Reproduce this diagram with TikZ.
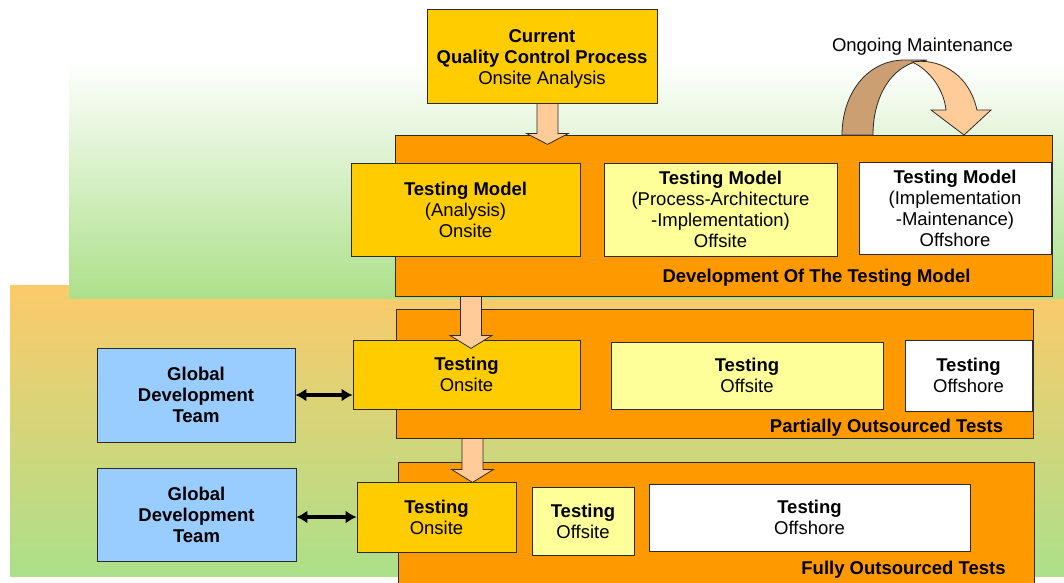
\documentclass[tikz,border=0pt]{standalone}
\usepackage{fontspec}
\setmainfont{Liberation Sans}
\usetikzlibrary{calc,arrows.meta}
\definecolor{bigorange}{HTML}{FF9900}
\definecolor{gold}{HTML}{FFCC00}
\definecolor{paleyellow}{HTML}{FFFF99}
\definecolor{skyblue}{HTML}{99CCFF}
\definecolor{peach}{HTML}{FFCC99}
\definecolor{darktan}{HTML}{CC9F73}
\definecolor{bggreen}{HTML}{ACE08A}
\definecolor{bgorange}{HTML}{FCCA6A}
\definecolor{edge}{HTML}{2B2B2B}
\newcommand\blkarrow[3]{\filldraw[blockarrow] ($(#1)+(-10.5,0)$) -- ++(0,#2) -- ++(-10.5,0) -- ++(21,#3) -- ++(21,-#3) -- ++(-10.5,0) -- ++(0,-#2) -- cycle;}
\begin{document}
\begin{tikzpicture}[x=1pt,y=-1pt,
  box/.style={draw=edge, line width=0.8pt, inner sep=0pt, align=center,
    font=\fontsize{18.5}{21}\selectfont},
  container/.style={draw=edge, line width=0.8pt, fill=bigorange, inner sep=0pt},
  lbl/.style={font=\fontsize{18.5}{21}\selectfont\bfseries, inner sep=0pt},
  plain/.style={font=\fontsize{18.5}{21}\selectfont, inner sep=0pt},
  blockarrow/.style={fill=peach, draw=edge, line width=0.8pt, line join=miter},
  ribbon/.style={draw=edge, line width=0.8pt},
  link/.style={line width=3.5pt, {Latex[length=11pt,width=13pt]}-{Latex[length=11pt,width=13pt]}}]
\useasboundingbox (0,0) rectangle (1064,582);
% backgrounds
\shade[top color=bgorange, bottom color=bggreen] (10,285) rectangle (1064,576);
\shade[top color=white, bottom color=bggreen] (69,60) rectangle (1064,298);
% top box
\node[box, fill=gold, minimum width=230, minimum height=94] (qc) at (542,56)
  {\rule{0pt}{19.5pt}\textbf{Current}\\\textbf{Quality Control Process}\\Onsite Analysis};
% containers
\node[container, minimum width=657, minimum height=161] (dev) at (723.5,215.5) {};
\node[container, minimum width=637, minimum height=129] (part) at (714.5,373.5) {};
\node[container, minimum width=636, minimum height=128] (full) at (716,526) {};
% row 1
\node[box, fill=gold, minimum width=229, minimum height=93] (t1on) at (465.5,209.5)
  {\textbf{Testing Model}\\(Analysis)\\Onsite};
\node[box, fill=paleyellow, minimum width=233, minimum height=93] (t1off) at (720.5,209.5)
  {\textbf{Testing Model}\\(Process-Architecture\\-Implementation)\\Offsite};
\node[box, fill=white, minimum width=192, minimum height=92] (t1sh) at (955,208)
  {\textbf{Testing Model}\\(Implementation\\-Maintenance)\\Offshore};
\node[lbl] (devlbl) at (816.5,278) {Development Of The Testing Model};
% row 2
\node[box, fill=gold, minimum width=227, minimum height=69] (t2on) at (466.5,374.5)
  {\textbf{Testing}\\Onsite};
\node[box, fill=paleyellow, minimum width=272, minimum height=67] (t2off) at (747,375.5)
  {\textbf{Testing}\\Offsite};
\node[box, fill=white, minimum width=127, minimum height=71] (t2sh) at (968.5,375.5)
  {\textbf{Testing}\\Offshore};
\node[lbl] (partlbl) at (886.5,428) {Partially Outsourced Tests};
\node[box, fill=skyblue, minimum width=198, minimum height=94] (gdt1) at (196,395)
  {\textbf{Global}\\\textbf{Development}\\\textbf{Team}};
% row 3
\node[box, fill=gold, minimum width=159, minimum height=70] (t3on) at (436.5,517)
  {\textbf{Testing}\\Onsite};
\node[box, fill=paleyellow, minimum width=102, minimum height=68] (t3off) at (583,521)
  {\textbf{Testing}\\Offsite};
\node[box, fill=white, minimum width=321, minimum height=67] (t3sh) at (809.5,517.5)
  {\textbf{Testing}\\Offshore};
\node[lbl] (fulllbl) at (903.5,570) {Fully Outsourced Tests};
\node[box, fill=skyblue, minimum width=199, minimum height=93] (gdt2) at (196.5,514.5)
  {\textbf{Global}\\\textbf{Development}\\\textbf{Team}};
% ongoing maintenance ribbon arrow
\node[plain] (ongoing) at (922.5,47) {Ongoing Maintenance};
\filldraw[ribbon, fill=darktan] (842,135) .. controls (842,95) and (866,60) .. (905,60)
  -- (927,60) -- (912,63) .. controls (888,72) and (873,100) .. (873,135) -- cycle;
\filldraw[ribbon, fill=peach] (912,62) .. controls (935,58) and (968,70) .. (977,110)
  -- (991,110) -- (964,135) -- (931,110) -- (946,110)
  .. controls (944,90) and (930,70) .. (912,62) -- cycle;
% block arrows
\coordinate (a1) at ($(qc.south)+(5.5,0)$);
\coordinate (a2) at ($(t1on.south |- dev.south)+(5.5,0)$);
\coordinate (a3) at ($(t2on.south |- part.south)+(6,0)$);
\blkarrow{a1}{30}{11}
\blkarrow{a2}{39}{13}
\blkarrow{a3}{31}{13}
% double arrows
\draw[link] (gdt1.east) -- (gdt1.east -| t2on.west);
\draw[link] (t3on.west -| gdt2.east) -- (t3on.west);
\end{tikzpicture}
\end{document}
